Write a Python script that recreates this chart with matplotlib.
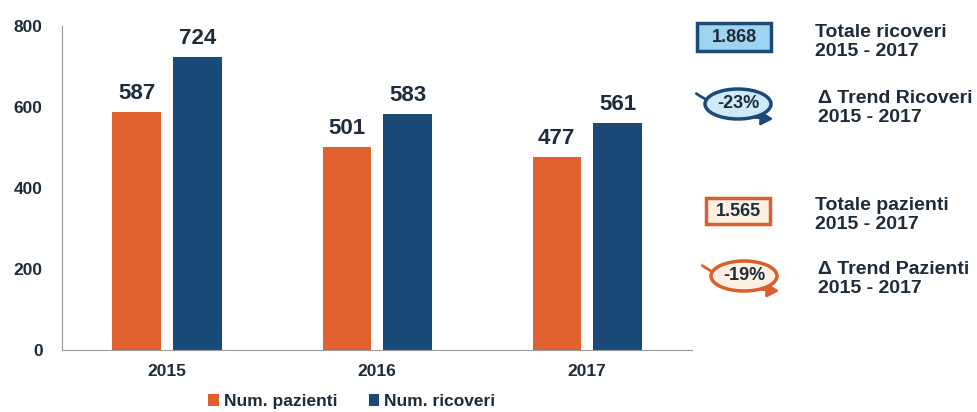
import numpy as np
import matplotlib.pyplot as plt
from matplotlib.patches import FancyBboxPatch, Ellipse, FancyArrowPatch

plt.rcParams['font.family'] = ['Liberation Sans', 'DejaVu Sans']

years = ['2015', '2016', '2017']
pazienti = [587, 501, 477]
ricoveri = [724, 583, 561]
series_names = ['Num. pazienti', 'Num. ricoveri']
tot_ricoveri = '1.868'
tot_pazienti = '1.565'
trend_ricoveri = '-23%'
trend_pazienti = '-19%'

orange = '#E0612F'
navy = '#1C4A78'
txt = '#1E2B3A'

fig = plt.figure(figsize=(9.77, 4.12), dpi=100)
ax = fig.add_axes([0.0635, 0.150, 0.645, 0.787])

x = np.arange(len(years))
w = 0.23
off = 0.145
b1 = ax.bar(x - off, pazienti, w, color=orange, label=series_names[0])
b2 = ax.bar(x + off, ricoveri, w, color=navy, label=series_names[1])

for bars, vals in ((b1, pazienti), (b2, ricoveri)):
    for r, v in zip(bars, vals):
        ax.text(r.get_x() + r.get_width() / 2, v + 20, str(v), ha='center',
                va='bottom', fontsize=16, fontweight='bold', color=txt)

ax.set_xlim(-0.5, 2.5)
ax.set_ylim(0, 800)
ax.set_yticks([0, 200, 400, 600, 800])
ax.set_xticks(x)
ax.set_xticklabels(years)
ax.tick_params(axis='both', labelsize=12.5, colors=txt, length=0)
ax.tick_params(axis='y', pad=14)
ax.tick_params(axis='x', pad=10)
for lab in ax.get_xticklabels() + ax.get_yticklabels():
    lab.set_fontweight('bold')
for s in ('top', 'right'):
    ax.spines[s].set_visible(False)
for s in ('left', 'bottom'):
    ax.spines[s].set_color('#9a9a9a')
    ax.spines[s].set_linewidth(0.8)

leg = fig.legend(loc='center', bbox_to_anchor=(0.36, 0.026), ncol=2,
                 frameon=False, handlelength=0.6, handleheight=0.7,
                 handletextpad=0.3, columnspacing=1.8,
                 prop={'weight': 'bold', 'size': 12.5})
for t in leg.get_texts():
    t.set_color(txt)


def px(xp, yp):
    return xp / 977, 1 - yp / 412


def box(cx, cy, w, h, value, fc, ec):
    x0, y0 = px(cx - w / 2, cy + h / 2)
    fig.patches.append(FancyBboxPatch((x0, y0), w / 977, h / 412,
                                      boxstyle='square,pad=0', fc=fc, ec=ec,
                                      lw=2.5, transform=fig.transFigure))
    fig.text(*px(cx, cy), value, ha='center', va='center', fontsize=13,
             fontweight='bold', color=txt)


def trend(cx, cy, value, fc, ec):
    fig.patches.append(FancyArrowPatch(px(cx - 44, cy - 12), px(cx + 38, cy + 15),
                                       connectionstyle='arc3,rad=0.15',
                                       arrowstyle='-|>,head_length=7,head_width=4',
                                       color=ec, lw=2, transform=fig.transFigure))
    fig.patches.append(Ellipse(px(cx, cy), 66 / 977, 30 / 412, fc=fc, ec=ec,
                               lw=2.5, transform=fig.transFigure))
    fig.text(*px(cx, cy), value, ha='center', va='center', fontsize=13,
             fontweight='bold', color=txt)


def label(xp, yp, s):
    fig.text(*px(xp, yp), s, ha='left', va='center', fontsize=14,
             fontweight='bold', color=txt, linespacing=1.15)


box(734, 37, 74, 28, tot_ricoveri, '#9FD3F2', '#1C4A78')
label(815, 42, 'Totale ricoveri\n2015 - 2017')
trend(738, 104, trend_ricoveri, '#CDE9FA', '#1C4A78')
label(818, 108, '\u0394 Trend Ricoveri\n2015 - 2017')

box(738, 211, 64, 26, tot_pazienti, '#FBF0E2', '#D9602E')
label(815, 215, 'Totale pazienti\n2015 - 2017')
trend(744, 276, trend_pazienti, '#FBF0E2', '#D9602E')
label(818, 279, '\u0394 Trend Pazienti\n2015 - 2017')

fig.savefig('out.png', dpi=100)
